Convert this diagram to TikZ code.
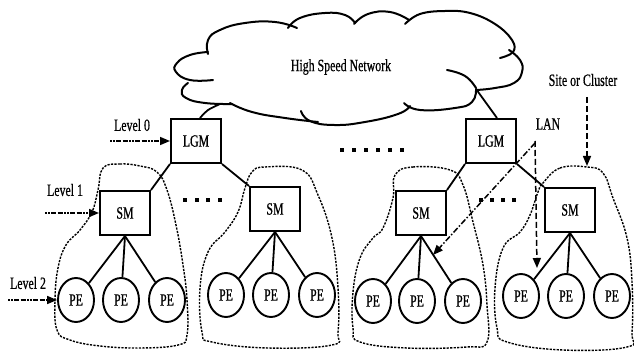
\documentclass[tikz,border=0pt]{standalone}
\usepackage{fontspec}
\setmainfont[FakeStretch=0.69,FakeBold=0.6]{Liberation Serif}
\usetikzlibrary{arrows.meta,shapes.geometric}
\begin{document}
\begin{tikzpicture}[x=1pt,y=-1pt,
  every node/.style={font=\fontsize{17.2}{19}\selectfont},
  mgr/.style={draw, line width=2pt, minimum width=50pt, minimum height=44pt, inner sep=0pt},
  pe/.style={draw, ellipse, line width=1.9pt, minimum width=36pt, minimum height=44pt, inner sep=0pt},
  link/.style={line width=1.8pt},
  cluster/.style={line width=1.4pt, dash pattern=on 2.2pt off 1.3pt},
  puff/.style={line width=2pt, line cap=round},
  tipA/.style={-{Triangle[length=10pt,width=8pt]}},
  levelarrow/.style={tipA, line width=1.6pt, dash pattern=on 1.5pt off 1.5pt on 1.5pt off 1.5pt on 5pt off 1.5pt on 5pt off 1.5pt},
  lanarrow/.style={tipA, line width=1.5pt, dash pattern=on 6pt off 2pt on 1.5pt off 2pt},
  dasharrow/.style={tipA, line width=1.5pt, dash pattern=on 6pt off 3pt},
  dotbox/.style={fill=black}]
\useasboundingbox (0,0) rectangle (634,352);

% ---- cloud ----
\draw[puff] plot[smooth, tension=0.8] coordinates {(208,52) (190,55) (177,63) (176,72) (190,80) (213,80)};
\draw[puff] plot[smooth, tension=0.8] coordinates {(188,83) (182,90) (186,98) (205,103) (232,104)};
\draw[puff] plot[smooth, tension=0.8] coordinates {(208,54) (208,40) (220,30) (245,23) (275,22) (297,28)};
\draw[puff] plot[smooth, tension=0.8] coordinates {(288,28) (300,18) (325,13) (345,15) (355,23)};
\draw[puff] plot[smooth, tension=0.8] coordinates {(354,24) (368,14) (390,12) (409,20)};
\draw[puff] plot[smooth, tension=0.7] coordinates {(405,24) (420,14) (445,11) (470,13) (495,24) (512,40) (513,52) (500,58)};
\draw[puff] plot[smooth, tension=0.8] coordinates {(509,50) (520,60) (522,72) (514,83) (495,88) (476,90)};
\draw[puff] plot[smooth, tension=0.8] coordinates {(447,70) (465,76) (476,88)};
\draw[puff] plot[smooth, tension=0.8] coordinates {(476,89) (472,102) (455,108) (420,110) (404,103)};
\draw[puff] plot[smooth, tension=0.8] coordinates {(410,106) (398,114) (365,122) (334,125) (310,121) (301,111)};
\draw[puff] plot[smooth, tension=0.8] coordinates {(230,103) (252,112) (285,118) (318,122)};
\coordinate (cloudL) at (220,104);
\coordinate (cloudR) at (476,89);
\node (hsn) at (341,67) {High Speed Network};

% ---- managers ----
\node[mgr] (lgmL) at (196,141) {LGM};
\node[mgr] (lgmR) at (491,141) {LGM};
\node[mgr] (sm1) at (125,213) {SM};
\node[mgr] (sm2) at (275,209) {SM};
\node[mgr] (sm3) at (421,213) {SM};
\node[mgr] (sm4) at (570,210) {SM};

% ---- processing elements ----
\node[pe] (pe11) at (76,300) {PE};
\node[pe] (pe12) at (121,300) {PE};
\node[pe] (pe13) at (167,300) {PE};
\node[pe] (pe21) at (226,295) {PE};
\node[pe] (pe22) at (271,295) {PE};
\node[pe] (pe23) at (317,295) {PE};
\node[pe] (pe31) at (373,301) {PE};
\node[pe] (pe32) at (417,301) {PE};
\node[pe] (pe33) at (463,301) {PE};
\node[pe] (pe41) at (521,296) {PE};
\node[pe] (pe42) at (566,296) {PE};
\node[pe] (pe43) at (612,296) {PE};

% ---- tree links ----
\draw[link] ([xshift=4pt]lgmL.north) .. controls (207,110) .. (cloudL);
\draw[link] ([xshift=6pt]lgmR.north) -- (cloudR);
\draw[link] (lgmL.south west) -- (sm1.north east);
\draw[link] (lgmL.south east) -- (sm2.north west);
\draw[link] (lgmR.south west) -- (sm3.north east);
\draw[link] (lgmR.south east) -- (sm4.north west);
\foreach \s in {1,2,3,4}{
  \foreach \p in {1,2,3}{
    \draw[link] (sm\s.south) -- (pe\s\p);
  }
}

% ---- ellipsis dots ----
\foreach \x in {342,354,366,378,390,402} \fill[dotbox] (\x-1.7,148.3) rectangle +(3.4,3.4);
\foreach \x in {185,197,208,220} \fill[dotbox] (\x-1.7,198.3) rectangle +(3.4,3.4);
\foreach \x in {481,492,503,514} \fill[dotbox] (\x-1.7,198.3) rectangle +(3.4,3.4);

% ---- clusters ----
\draw[cluster] plot[smooth cycle, tension=0.7] coordinates {(103,168) (120,164) (140,166) (157,172) (167,190) (176,225) (183,265) (187,300) (187,335) (178,345) (140,348) (100,346) (70,340) (57,330) (55,300) (58,268) (66,245) (80,230) (92,212) (98,190)};
\draw[cluster] plot[smooth cycle, tension=0.7] coordinates {(252,172) (265,167) (302,170) (318,195) (332,238) (338,288) (338,332) (332,345) (268,348) (212,342) (202,332) (200,288) (208,252) (225,232) (238,212) (245,188)};
\draw[cluster] plot[smooth cycle, tension=0.7] coordinates {(395,175) (413,167) (450,170) (463,185) (473,222) (483,265) (487,305) (487,342) (467,347) (407,348) (360,342) (353,328) (353,292) (360,258) (373,238) (383,228) (393,198)};
\draw[cluster] plot[smooth cycle, tension=0.7] coordinates {(543,183) (560,168) (587,167) (603,173) (613,198) (627,238) (632,282) (632,332) (627,347) (563,350) (507,342) (497,328) (495,288) (503,248) (520,232) (530,215) (538,192)};

% ---- level labels ----
\node (lv0) at (132,125) {Level 0};
\node (lv1) at (65,190) {Level 1};
\node (lv2) at (28,283) {Level 2};
\coordinate (lv0s) at (110,141);
\coordinate (lv1s) at (45,213);
\coordinate (lv2s) at (8,300);
\draw[levelarrow] (lv0s) -- (lgmL.west);
\draw[levelarrow] (lv1s) -- (sm1.west);
\draw[levelarrow] (lv2s) -- (pe11.west);

% ---- LAN and site annotations ----
\node (lan) at (548,124) {LAN};
\coordinate (lanpt) at (535,143);
\coordinate (lanA) at (433,255);
\coordinate (lanB) at (537,268);
\draw[lanarrow] (lanpt) -- (lanA);
\draw[dasharrow] ([yshift=2pt]lanpt) -- (lanB);

\node (site) at (583,80) {Site or Cluster};
\coordinate (siteS) at (587,97);
\coordinate (siteT) at (587,166);
\draw[dasharrow] (siteS) -- (siteT);
\end{tikzpicture}
\end{document}
